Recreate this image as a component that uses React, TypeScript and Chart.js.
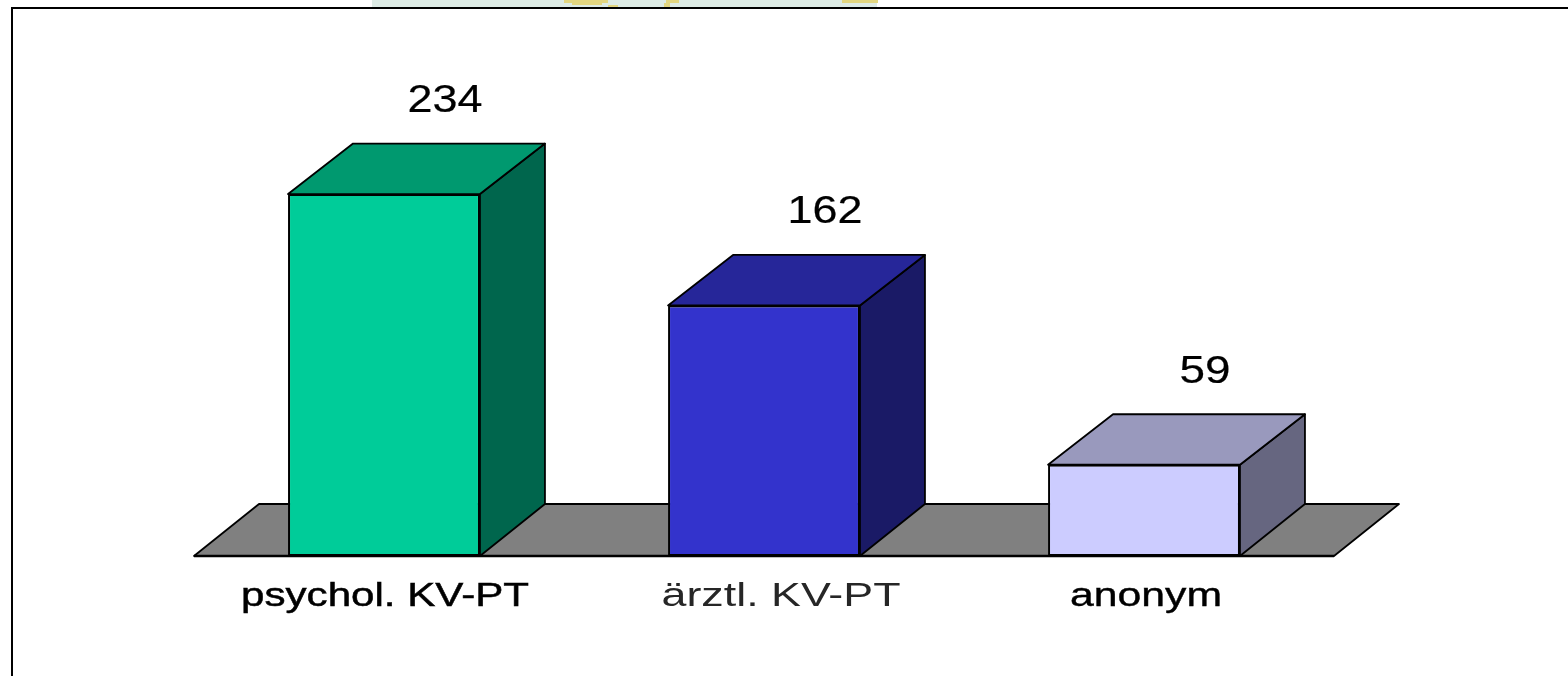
import React, { useEffect, useRef } from "react";
import { Chart, registerables } from "chart.js";

Chart.register(...registerables);

const categories = ["psychol. KV-PT", "ärztl. KV-PT", "anonym"];
const values = [234, 162, 59];
const frontColors = ["#00CC99", "#3333CC", "#CCCCFF"];
const sideColors = ["#00664D", "#1A1A66", "#666680"];
const topColors = ["#00996F", "#262699", "#9999BD"];
const labelColors = ["#000000", "#262626", "#000000"];
const labelShift = [1, 17, 2];
const labelStroke = [0.5, 0, 0.4];

const DX = 65;
const DY = 50.5;
const FLOOR_DY = 52;
const FONT = '"Liberation Sans", Arial, sans-serif';

function poly(ctx: CanvasRenderingContext2D, pts: number[][], fill: string, lw = 1.8) {
  ctx.beginPath();
  pts.forEach((p, i) => (i ? ctx.lineTo(p[0], p[1]) : ctx.moveTo(p[0], p[1])));
  ctx.closePath();
  ctx.fillStyle = fill;
  ctx.fill();
  ctx.lineWidth = lw;
  ctx.strokeStyle = "#000";
  ctx.lineJoin = "round";
  ctx.stroke();
}

function wideText(
  ctx: CanvasRenderingContext2D,
  text: string,
  cx: number,
  cy: number,
  size: number,
  targetW: number,
  color: string,
  stroke: number
) {
  ctx.save();
  ctx.font = `${size}px ${FONT}`;
  ctx.textAlign = "center";
  ctx.textBaseline = "middle";
  const sx = targetW / ctx.measureText(text).width;
  ctx.translate(cx, cy);
  ctx.scale(sx, 1);
  ctx.fillStyle = color;
  ctx.fillText(text, 0, 0);
  if (stroke > 0) {
    ctx.strokeStyle = color;
    ctx.lineWidth = stroke;
    ctx.strokeText(text, 0, 0);
  }
  ctx.restore();
}

const pseudo3d = {
  id: "pseudo3d",
  beforeDraw(chart: any) {
    const ctx = chart.ctx as CanvasRenderingContext2D;
    ctx.save();
    // faded letterhead remnants above the frame
    ctx.fillStyle = "#DDEBE5";
    ctx.fillRect(372, 0, 505, 7);
    ctx.fillStyle = "#E2D680";
    ctx.fillRect(564, 0, 44, 3);
    ctx.fillRect(572, 3, 30, 2);
    ctx.fillRect(608, 5, 10, 2);
    ctx.fillRect(666, 0, 13, 3);
    ctx.fillRect(664, 3, 6, 4);
    ctx.fillRect(842, 0, 36, 3);
    // frame
    ctx.strokeStyle = "#000";
    ctx.lineWidth = 2;
    ctx.beginPath();
    ctx.moveTo(12, 676);
    ctx.lineTo(12, 8);
    ctx.lineTo(1568, 8);
    ctx.stroke();
    ctx.restore();
  },
  beforeDatasetsDraw(chart: any) {
    const ctx = chart.ctx as CanvasRenderingContext2D;
    const { left, right } = chart.chartArea;
    const y0 = chart.scales.y.getPixelForValue(0);
    ctx.save();
    poly(ctx, [[left, y0], [right, y0], [right + DX, y0 - FLOOR_DY], [left + DX, y0 - FLOOR_DY]], "#808080");
    ctx.beginPath();
    ctx.moveTo(left, y0);
    ctx.lineTo(right, y0);
    ctx.lineWidth = 2.4;
    ctx.stroke();
    chart.getDatasetMeta(0).data.forEach((bar: any, i: number) => {
      const l = bar.x - bar.width / 2;
      const r = bar.x + bar.width / 2;
      const t = bar.y;
      const b = bar.base;
      poly(ctx, [[r, b], [r + DX, b - FLOOR_DY], [r + DX, t - DY], [r, t]], sideColors[i]);
      poly(ctx, [[l, t], [r, t], [r + DX, t - DY], [l + DX, t - DY]], topColors[i]);
    });
    ctx.restore();
  },
  afterDatasetsDraw(chart: any) {
    const ctx = chart.ctx as CanvasRenderingContext2D;
    const y0 = chart.scales.y.getPixelForValue(0);
    const xs = chart.scales.x;
    chart.getDatasetMeta(0).data.forEach((bar: any, i: number) => {
      wideText(ctx, String(values[i]), bar.x + 61, bar.y - 92.5, 38, i === 2 ? 51 : 75, "#000", 0.2);
      const w = [288, 239, 152][i];
      wideText(ctx, categories[i], xs.getPixelForValue(i) + labelShift[i], y0 + 41, 34, w, labelColors[i], labelStroke[i]);
    });
  },
};

export default function App() {
  const ref = useRef<HTMLCanvasElement>(null);
  useEffect(() => {
    const chart = new Chart(ref.current!, {
      type: "bar",
      data: {
        labels: categories,
        datasets: [
          {
            data: values,
            backgroundColor: frontColors,
            borderColor: "#000",
            borderWidth: 2,
            borderSkipped: false,
            barPercentage: 0.505,
            categoryPercentage: 1,
          },
        ],
      },
      options: {
        responsive: false,
        animation: false,
        layout: { padding: { left: 194, right: 234, top: 92, bottom: 120 } },
        plugins: { legend: { display: false }, tooltip: { enabled: false }, title: { display: false } },
        scales: {
          x: { display: false, grid: { display: false } },
          y: { display: false, min: 0, max: 300, grid: { display: false } },
        },
      },
      plugins: [pseudo3d],
    });
    return () => chart.destroy();
  }, []);
  return (
    <div style={{ position: "fixed", left: 0, top: 0, width: 1568, height: 676, background: "#fff" }}>
      <canvas ref={ref} width={1568} height={676} style={{ display: "block" }} />
    </div>
  );
}
